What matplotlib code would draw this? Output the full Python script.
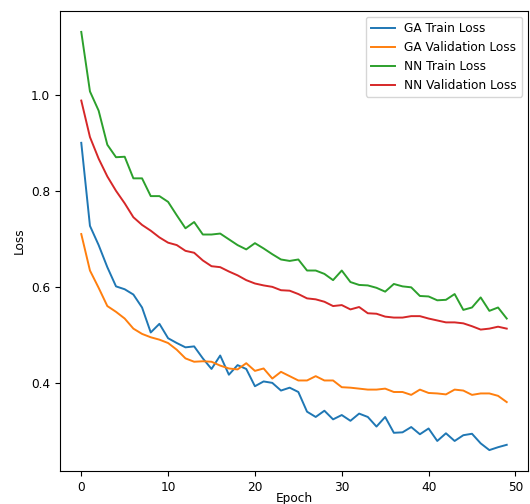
import matplotlib
matplotlib.use("Agg")
import matplotlib.pyplot as plt

# Loss values per epoch
epochs = list(range(50))

ga_train = [0.901, 0.728, 0.688, 0.642, 0.602, 0.596, 0.585, 0.558, 0.506, 0.524,
            0.494, 0.484, 0.475, 0.477, 0.452, 0.430, 0.458, 0.418, 0.438, 0.430,
            0.394, 0.404, 0.401, 0.385, 0.391, 0.382, 0.341, 0.330, 0.343, 0.325,
            0.334, 0.322, 0.337, 0.330, 0.310, 0.330, 0.297, 0.298, 0.309, 0.294,
            0.306, 0.280, 0.296, 0.280, 0.292, 0.295, 0.275, 0.261, 0.267, 0.272]

ga_val = [0.711, 0.635, 0.599, 0.561, 0.549, 0.535, 0.514, 0.503, 0.496, 0.491,
          0.484, 0.470, 0.452, 0.445, 0.446, 0.445, 0.437, 0.431, 0.429, 0.442,
          0.426, 0.431, 0.410, 0.424, 0.415, 0.406, 0.406, 0.415, 0.406, 0.406,
          0.392, 0.391, 0.389, 0.387, 0.387, 0.389, 0.382, 0.382, 0.376, 0.387,
          0.380, 0.379, 0.377, 0.387, 0.385, 0.376, 0.379, 0.379, 0.374, 0.361]

nn_train = [1.132, 1.008, 0.968, 0.897, 0.871, 0.872, 0.827, 0.827, 0.790, 0.790,
            0.778, 0.750, 0.723, 0.736, 0.710, 0.710, 0.712, 0.700, 0.688, 0.679,
            0.692, 0.681, 0.669, 0.658, 0.655, 0.658, 0.635, 0.635, 0.628, 0.615,
            0.635, 0.611, 0.605, 0.604, 0.599, 0.591, 0.607, 0.602, 0.600, 0.582,
            0.581, 0.573, 0.574, 0.586, 0.553, 0.558, 0.579, 0.551, 0.558, 0.535]

nn_val = [0.989, 0.913, 0.868, 0.831, 0.801, 0.775, 0.746, 0.730, 0.718, 0.704,
          0.693, 0.688, 0.676, 0.672, 0.656, 0.644, 0.642, 0.633, 0.625, 0.615,
          0.608, 0.604, 0.601, 0.594, 0.593, 0.586, 0.577, 0.575, 0.570, 0.561,
          0.563, 0.554, 0.559, 0.546, 0.545, 0.539, 0.537, 0.537, 0.540, 0.540,
          0.535, 0.531, 0.527, 0.527, 0.525, 0.519, 0.512, 0.514, 0.518, 0.514]

plt.rcParams['font.size'] = 8.7

fig = plt.figure(figsize=(5.30, 5.04), dpi=100)
ax = fig.add_axes([60 / 530, 33 / 504, 468 / 530, 460 / 504])

ax.plot(epochs, ga_train, label='GA Train Loss', lw=1.4)
ax.plot(epochs, ga_val, label='GA Validation Loss', lw=1.4)
ax.plot(epochs, nn_train, label='NN Train Loss', lw=1.4)
ax.plot(epochs, nn_val, label='NN Validation Loss', lw=1.4)

# label pulled up a little so it stays inside the cropped picture
ax.set_xlabel('Epoch', labelpad=-1.5)
ax.set_ylabel('Loss')
ax.legend(loc='upper right')

fig.savefig('out.png', dpi=100)
